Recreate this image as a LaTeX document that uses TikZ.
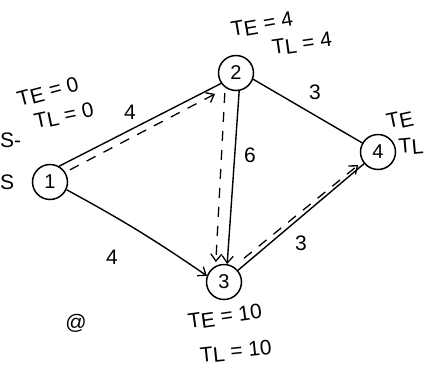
\documentclass[tikz,border=0pt]{standalone}
\usepackage{fontspec}
\setmainfont{Liberation Sans}
\usetikzlibrary{arrows.meta}
\newcommand{\myTE}{T\lower2pt\hbox{E}}
\newcommand{\myTL}{T\lower2pt\hbox{L}}
\begin{document}
\begin{tikzpicture}[x=1pt,y=-1pt,
  ev/.style={circle,draw,line width=1.5pt,minimum size=35pt,inner sep=0pt,font=\fontsize{20}{22}\selectfont},
  act/.style={line width=1.4pt},
  tip/.style={-{Straight Barb[length=7pt,width=11pt,line width=1.3pt]}},
  crit/.style={line width=1.3pt,dash pattern=on 10pt off 9pt,tip},
  lbl/.style={font=\fontsize{21}{24}\selectfont,inner sep=1pt},
  ttl/.style={font=\fontsize{21}{24}\selectfont,inner sep=0pt}]
\useasboundingbox (0,0) rectangle (430,375);
\fill[white] (0,0) rectangle (430,375);
% events
\node[ev] (n1) at (50,182) {1};
\node[ev] (n2) at (236,73) {2};
\node[ev] (n3) at (224,282) {3};
\node[ev] (n4) at (378,152) {4};
% activities
\draw[act] (n1.60) -- (n2.215);
\draw[act] (n2.-20) -- (n4.150);
\draw[act,tip] (n2.-80) -- (n3.80);
\draw[act,tip] (n1.-25) to[bend left=3] (n3.160);
\draw[act] (n3.40) -- (n4.220);
% critical path (dashed)
\draw[crit] ([shift={(4,-3)}]n1.30) -- ([shift={(-8,8)}]n2.225);
\draw[crit] ([shift={(-8,2)}]n2.-100) -- ([shift={(-5,-2)}]n3.100);
\draw[crit] ([shift={(6,-12)}]n3.40) -- ([shift={(-4,4)}]n4.210);
% activity durations
\node[lbl] (d12) at (130,112) {4};
\node[lbl] (d24) at (315,92) {3};
\node[lbl] (d23) at (250,155) {6};
\node[lbl] (d13) at (112,257) {4};
\node[lbl] (d34) at (301,243) {3};
% event times
\node[ttl,rotate=15] (te1) at (48,92) {\myTE\ =\ 0};
\node[ttl,rotate=12] (tl1) at (64,116) {\myTL\ =\ 0};
\node[ttl,anchor=west] (s1) at (0,140) {S-};
\node[ttl,anchor=west] (s2) at (0,182) {S};
\node[ttl,rotate=10] (te2) at (262,25) {\myTE\ =\ 4};
\node[ttl,rotate=8] (tl2) at (302,44) {\myTL\ =\ 4};
\node[ttl,rotate=12] (te4) at (400,120) {\myTE};
\node[ttl,rotate=5] (tl4) at (411,146) {\myTL};
\node[ttl,rotate=8] (te3) at (225,317) {\myTE\ =\ 10};
\node[ttl,rotate=6] (tl3) at (236,352) {\myTL\ =\ 10};
\node[ttl] (q) at (76,323) {@};
\end{tikzpicture}
\end{document}
